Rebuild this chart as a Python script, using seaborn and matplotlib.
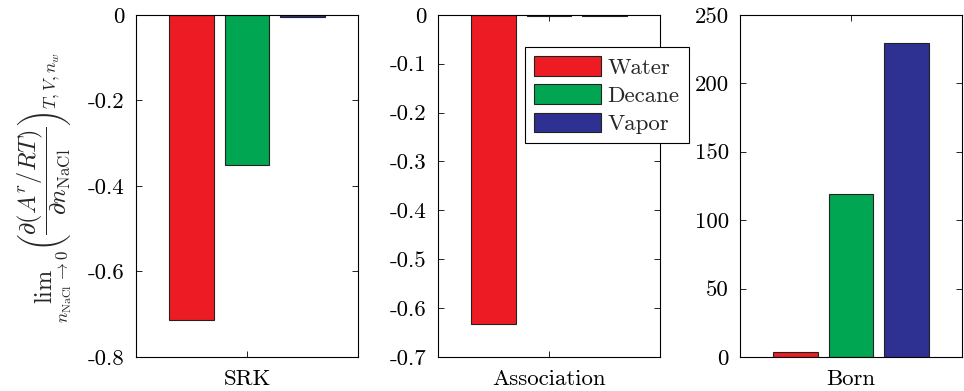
import numpy as np
import pandas as pd
import matplotlib
matplotlib.use('Agg')
import matplotlib.pyplot as plt
from matplotlib.ticker import FuncFormatter
import seaborn as sns

phases = ['Water', 'Decane', 'Vapor']
colors = ['#ED1C24', '#00A651', '#2E3192']

models = ['SRK', 'Association', 'Born']
srk = [-0.713, -0.352, -0.004]
association = [-0.633, -0.0015, -0.0015]
born = [3.4, 119, 229.5]

ylims = [(-0.8, 0), (-0.7, 0), (0, 250)]
ysteps = [0.2, 0.1, 50]

sns.set_style('ticks')
plt.rcParams['font.family'] = ['cmr10', 'DejaVu Serif']
plt.rcParams['mathtext.fontset'] = 'cm'
plt.rcParams['axes.unicode_minus'] = False
plt.rcParams['axes.formatter.use_mathtext'] = True

fig, axes = plt.subplots(1, 3, figsize=(9.64, 3.91), dpi=100)
fig.subplots_adjust(left=0.141, right=0.998, top=0.962, bottom=0.087, wspace=0.36)


def fmt(v, p):
    if abs(v) < 1e-9:
        return '0'
    return '%g' % round(v, 3)


for ax, model, vals, ylim, step in zip(axes, models, [srk, association, born], ylims, ysteps):
    df = pd.DataFrame({'model': [model] * 3, 'phase': phases, 'value': vals})
    sns.barplot(data=df, x='model', y='value', hue='phase', hue_order=phases,
                palette=colors, width=0.75, gap=0.2, saturation=1,
                edgecolor='#222222', linewidth=0.8, legend=False, ax=ax)
    ax.set_xlim(-0.5, 0.5)
    ax.set_ylim(*ylim)
    ax.set_yticks(np.arange(ylim[0], ylim[1] + step / 2, step))
    ax.yaxis.set_major_formatter(FuncFormatter(fmt))
    ax.set_xlabel('')
    ax.set_ylabel('')
    for s in ax.spines.values():
        s.set_visible(True)
        s.set_linewidth(0.8)
        s.set_color('black')
    ax.tick_params(direction='in', top=True, right=True, length=4, width=0.6,
                   labelsize=16.5, colors='black')
    ax.tick_params(axis='y', pad=8)
    ax.tick_params(axis='x', pad=9)

fig.text(0.046, 0.52,
         r'$\lim_{n_{\mathrm{NaCl}}\to 0}\left(\dfrac{\partial(A^r/RT)}{\partial n_{\mathrm{NaCl}}}\right)_{T,V,n_w}$',
         rotation=90, ha='center', va='center', fontsize=17.5)

handles = [plt.Rectangle((0, 0), 1, 1, facecolor=c, edgecolor='#222222', linewidth=0.8) for c in colors]
leg = fig.legend(handles, phases, loc='upper left', bbox_to_anchor=(525 / 964, 1 - 47 / 391),
                 fancybox=False, edgecolor='black', framealpha=1, fontsize=16.5,
                 handlelength=2.9, handleheight=0.95, labelspacing=0.28, handletextpad=0.3,
                 borderpad=0.4, borderaxespad=0)
leg.get_frame().set_linewidth(0.8)

fig.savefig('out.png', dpi=100)
